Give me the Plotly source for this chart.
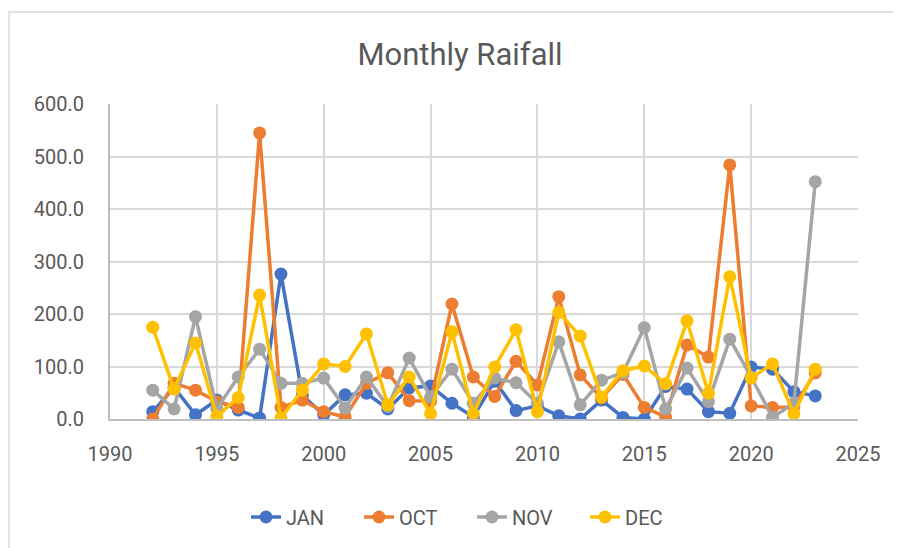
import plotly.graph_objects as go

years = list(range(1992, 2024))
jan = [14, 60, 8, 36, 17, 2, 276, 45, 8, 46, 49, 19, 59, 63, 30, 4, 72, 16, 25, 6,
       0, 36, 3, 0, 62, 57, 14, 11, 99, 95, 52, 44]
oct_ = [0, 68, 55, 33, 22, 545, 22, 36, 14, 4, 68, 88, 35, 34, 219, 80, 43, 110, 65, 233,
        84, 40, 85, 22, 4, 141, 118, 484, 25, 22, 23, 88]
nov = [55, 19, 195, 20, 80, 133, 68, 68, 78, 21, 80, 24, 116, 42, 95, 30, 78, 69, 30, 147,
       27, 74, 88, 174, 19, 97, 33, 152, 80, 3, 30, 452]
dec = [175, 57, 145, 5, 41, 236, 2, 55, 105, 100, 162, 27, 80, 10, 166, 10, 99, 170, 14, 203,
       158, 42, 92, 101, 67, 187, 49, 271, 78, 105, 10, 95]

series = [("JAN", jan, "#4472C4"), ("OCT", oct_, "#ED7D31"),
          ("NOV", nov, "#A5A5A5"), ("DEC", dec, "#FFC000")]

FONT = "Roboto, Arial"
W, H = 893, 540
L, T, PW, PH = 102, 96, 748, 315

fig = go.Figure()
for name, vals, col in series:
    fig.add_trace(go.Scatter(x=years, y=vals, name=name, mode="lines+markers",
                             line=dict(color=col, width=3.5),
                             marker=dict(color=col, size=13)))

fig.update_layout(
    width=W, height=H,
    margin=dict(l=L, r=W - L - PW, t=T, b=H - T - PH, pad=0),
    paper_bgcolor="white", plot_bgcolor="white",
    font=dict(family=FONT, color="#595959", size=20),
    title=dict(text="Monthly Raifall", x=452 / W, xanchor="center", y=1 - 46 / H,
               yanchor="middle", font=dict(size=31, color="#595959", family=FONT)),
    xaxis=dict(range=[1990, 2025], tickmode="linear", tick0=1990, dtick=5,
               showgrid=True, gridcolor="#D9D9D9", gridwidth=1.5,
               showline=True, linecolor="#BFBFBF", linewidth=2,
               zeroline=False, ticks="", tickfont=dict(size=20),
               ticklabelstandoff=16),
    yaxis=dict(range=[0, 600], tickmode="linear", tick0=0, dtick=100, tickformat=".1f",
               showgrid=True, gridcolor="#D9D9D9", gridwidth=1.5,
               showline=True, linecolor="#BFBFBF", linewidth=2,
               zeroline=False, ticks="", tickfont=dict(size=20),
               ticklabelstandoff=20),
    legend=dict(orientation="h", x=(238 - L) / PW, xanchor="left", y=(T + PH - 509) / PH,
                yanchor="middle", font=dict(size=20, color="#595959"),
                entrywidth=68, entrywidthmode="pixels", traceorder="normal"),
    showlegend=True,
    shapes=[dict(type="rect", xref="paper", yref="paper",
                 x0=(1 - L) / PW, x1=(W + 20 - L) / PW,
                 y0=(T + PH - H - 20) / PH, y1=1 + (T - 4) / PH,
                 line=dict(color="#D9D9D9", width=1.5), layer="below")],
)

fig.write_html("out.html")
